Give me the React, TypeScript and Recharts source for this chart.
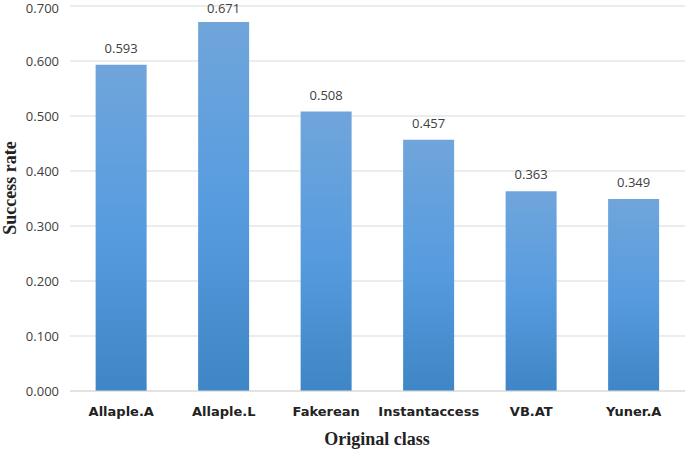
import { BarChart, Bar, XAxis, YAxis, CartesianGrid, LabelList } from "recharts";

const classes = ["Allaple.A", "Allaple.L", "Fakerean", "Instantaccess", "VB.AT", "Yuner.A"];
const successRate = [0.593, 0.671, 0.508, 0.457, 0.363, 0.349];
const yTicks = [0, 0.1, 0.2, 0.3, 0.4, 0.5, 0.6, 0.7];

const data = classes.map((name, i) => ({ name, rate: successRate[i] }));

const titleStyle = { fill: "#222", fontSize: 18, fontWeight: "bold", fontFamily: "Liberation Serif" };

function YTitle() {
  return (
    <text x={10} y={188} transform="rotate(-90 10 188)" textAnchor="middle" dominantBaseline="central" style={titleStyle}>
      Success rate
    </text>
  );
}

function XTitle() {
  return (
    <text x={377} y={439} textAnchor="middle" dominantBaseline="central" style={titleStyle}>
      Original class
    </text>
  );
}

// value above the bar; kept inside the top edge for the tallest bar
function ValueLabel(props: any) {
  const { x, y, width, value } = props;
  const baseline = Math.max(Number(y) - 12, 13);
  return (
    <text
      x={Number(x) + Number(width) / 2}
      y={baseline}
      textAnchor="middle"
      style={{ fill: "#404040", fontSize: 13, fontFamily: "Open Sans" }}
    >
      {Number(value).toFixed(3)}
    </text>
  );
}

export default function App() {
  return (
    <div style={{ position: "absolute", left: 0, top: 0, width: 685, height: 451, background: "#fff" }}>
      <BarChart
        width={685}
        height={451}
        data={data}
        margin={{ top: 6, right: 0, bottom: 0, left: 0 }}
        barCategoryGap="25%"
      >
        <defs>
          <linearGradient id="barFill" x1="0" y1="0" x2="0" y2="1">
            <stop offset="0%" stopColor="#70a5db" />
            <stop offset="50%" stopColor="#579cdf" />
            <stop offset="100%" stopColor="#3f86c6" />
          </linearGradient>
        </defs>
        <CartesianGrid vertical={false} stroke="#d9d9d9" strokeWidth={1} />
        <XAxis
          dataKey="name"
          height={60}
          axisLine={{ stroke: "#d9d9d9" }}
          tickLine={false}
          tick={{ fill: "#222", fontSize: 13, fontWeight: "bold", fontFamily: "DejaVu Sans" }}
          tickMargin={10}
          label={<XTitle />}
        />
        <YAxis
          width={70}
          domain={[0, 0.7]}
          ticks={yTicks}
          axisLine={false}
          tickLine={false}
          tickFormatter={(v) => Number(v).toFixed(3)}
          tick={{ fill: "#404040", fontSize: 13, fontFamily: "Open Sans" }}
          tickMargin={5}
          label={<YTitle />}
        />
        <Bar dataKey="rate" fill="url(#barFill)" isAnimationActive={false}>
          <LabelList dataKey="rate" content={<ValueLabel />} />
        </Bar>
      </BarChart>
    </div>
  );
}
